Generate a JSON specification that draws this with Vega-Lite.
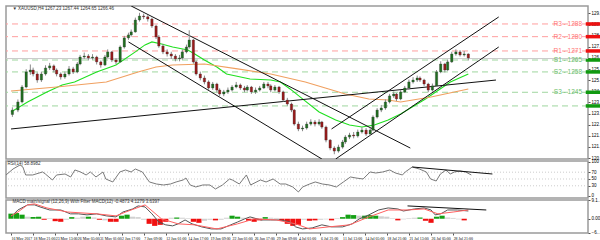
{
  "$schema": "https://vega.github.io/schema/vega-lite/v6.json",
  "padding": {"left": 3, "top": 4, "right": 0, "bottom": 0},
  "background": "white",
  "spacing": 2,
  "bounds": "flush",
  "config": {
    "font": "Liberation Sans",
    "view": {"stroke": "#9a9a9a", "strokeWidth": 1.5},
    "axis": {"labelFontSize": 4.5, "labelColor": "#000000", "tickSize": 2, "tickColor": "#555555", "labelPadding": 1, "domain": false, "grid": false, "title": null, "labelLimit": 13, "labelOverlap": false, "zindex": 1}
  },
  "datasets": {
    "candles": [
      {"i":1,"o":1231.0,"h":1235.5,"l":1229.5,"c":1233.8},
      {"i":5,"o":1233.8,"h":1240.5,"l":1232.5,"c":1238.9},
      {"i":8,"o":1238.9,"h":1249.5,"l":1238.0,"c":1248.3},
      {"i":11,"o":1248.3,"h":1259.5,"l":1247.5,"c":1257.8},
      {"i":14,"o":1257.8,"h":1262.5,"l":1256.0,"c":1259.0},
      {"i":16,"o":1259.0,"h":1260.5,"l":1255.0,"c":1256.5},
      {"i":19,"o":1256.5,"h":1257.5,"l":1251.0,"c":1252.7},
      {"i":22,"o":1252.7,"h":1258.0,"l":1251.5,"c":1256.5},
      {"i":25,"o":1256.5,"h":1262.0,"l":1255.5,"c":1260.3},
      {"i":28,"o":1260.3,"h":1263.5,"l":1259.0,"c":1261.6},
      {"i":31,"o":1261.6,"h":1262.5,"l":1257.5,"c":1259.0},
      {"i":33,"o":1259.0,"h":1260.0,"l":1255.0,"c":1256.5},
      {"i":36,"o":1256.5,"h":1257.5,"l":1253.0,"c":1254.6},
      {"i":39,"o":1254.6,"h":1258.0,"l":1253.5,"c":1256.5},
      {"i":42,"o":1256.5,"h":1261.5,"l":1255.5,"c":1259.7},
      {"i":45,"o":1259.7,"h":1261.0,"l":1256.5,"c":1257.8},
      {"i":48,"o":1257.8,"h":1264.0,"l":1257.0,"c":1262.8},
      {"i":50,"o":1262.8,"h":1268.5,"l":1262.0,"c":1267.2},
      {"i":53,"o":1267.2,"h":1270.0,"l":1266.0,"c":1267.8},
      {"i":56,"o":1267.8,"h":1269.0,"l":1265.0,"c":1266.6},
      {"i":59,"o":1266.6,"h":1269.0,"l":1265.5,"c":1267.2},
      {"i":62,"o":1267.2,"h":1268.0,"l":1262.5,"c":1264.1},
      {"i":65,"o":1264.1,"h":1265.0,"l":1260.5,"c":1262.2},
      {"i":68,"o":1262.2,"h":1268.5,"l":1261.5,"c":1267.2},
      {"i":70,"o":1267.2,"h":1272.0,"l":1266.5,"c":1270.4},
      {"i":73,"o":1270.4,"h":1271.0,"l":1264.0,"c":1265.3},
      {"i":76,"o":1265.3,"h":1266.5,"l":1262.5,"c":1264.1},
      {"i":79,"o":1264.1,"h":1274.5,"l":1263.5,"c":1273.5},
      {"i":82,"o":1273.5,"h":1280.5,"l":1272.5,"c":1279.2},
      {"i":85,"o":1279.2,"h":1282.5,"l":1278.0,"c":1281.1},
      {"i":87,"o":1281.1,"h":1284.5,"l":1280.0,"c":1283.0},
      {"i":90,"o":1283.0,"h":1292.0,"l":1282.5,"c":1290.5},
      {"i":93,"o":1290.5,"h":1295.0,"l":1289.5,"c":1293.0},
      {"i":96,"o":1293.0,"h":1294.5,"l":1291.0,"c":1292.5},
      {"i":99,"o":1292.5,"h":1293.5,"l":1289.5,"c":1291.1},
      {"i":102,"o":1291.1,"h":1292.0,"l":1285.5,"c":1286.7},
      {"i":105,"o":1286.7,"h":1287.5,"l":1278.5,"c":1279.8},
      {"i":107,"o":1279.8,"h":1281.0,"l":1273.0,"c":1274.1},
      {"i":110,"o":1274.1,"h":1275.5,"l":1269.0,"c":1270.4},
      {"i":113,"o":1270.4,"h":1272.0,"l":1267.5,"c":1269.1},
      {"i":116,"o":1269.1,"h":1270.5,"l":1266.0,"c":1267.8},
      {"i":119,"o":1267.8,"h":1269.0,"l":1264.5,"c":1266.0},
      {"i":122,"o":1266.0,"h":1268.5,"l":1264.5,"c":1266.6},
      {"i":124,"o":1266.6,"h":1272.0,"l":1265.5,"c":1270.4},
      {"i":127,"o":1270.4,"h":1275.0,"l":1269.5,"c":1273.5},
      {"i":129,"o":1273.5,"h":1284.0,"l":1272.5,"c":1277.9},
      {"i":132,"o":1277.9,"h":1278.5,"l":1263.0,"c":1264.1},
      {"i":134,"o":1264.1,"h":1265.0,"l":1255.5,"c":1256.5},
      {"i":137,"o":1256.5,"h":1258.0,"l":1252.5,"c":1254.0},
      {"i":140,"o":1254.0,"h":1255.5,"l":1250.0,"c":1251.5},
      {"i":143,"o":1251.5,"h":1252.5,"l":1246.5,"c":1247.7},
      {"i":146,"o":1247.7,"h":1251.5,"l":1246.5,"c":1250.2},
      {"i":149,"o":1250.2,"h":1251.0,"l":1245.0,"c":1246.4},
      {"i":151,"o":1246.4,"h":1247.5,"l":1242.5,"c":1243.9},
      {"i":154,"o":1243.9,"h":1246.5,"l":1242.5,"c":1245.2},
      {"i":157,"o":1245.2,"h":1248.0,"l":1244.0,"c":1246.4},
      {"i":160,"o":1246.4,"h":1249.5,"l":1245.5,"c":1248.3},
      {"i":163,"o":1248.3,"h":1251.5,"l":1247.5,"c":1249.6},
      {"i":166,"o":1249.6,"h":1250.5,"l":1246.5,"c":1247.7},
      {"i":169,"o":1247.7,"h":1249.0,"l":1245.0,"c":1246.4},
      {"i":171,"o":1246.4,"h":1249.5,"l":1245.5,"c":1248.3},
      {"i":174,"o":1248.3,"h":1249.0,"l":1244.0,"c":1245.2},
      {"i":177,"o":1245.2,"h":1248.0,"l":1244.0,"c":1246.4},
      {"i":180,"o":1246.4,"h":1249.0,"l":1245.5,"c":1247.7},
      {"i":183,"o":1247.7,"h":1251.5,"l":1247.0,"c":1250.2},
      {"i":186,"o":1250.2,"h":1251.5,"l":1247.5,"c":1249.0},
      {"i":188,"o":1249.0,"h":1250.0,"l":1245.0,"c":1246.4},
      {"i":191,"o":1246.4,"h":1249.5,"l":1245.5,"c":1248.3},
      {"i":194,"o":1248.3,"h":1249.0,"l":1244.0,"c":1245.2},
      {"i":197,"o":1245.2,"h":1246.0,"l":1239.0,"c":1240.1},
      {"i":200,"o":1240.1,"h":1241.5,"l":1236.5,"c":1237.6},
      {"i":203,"o":1237.6,"h":1238.5,"l":1232.5,"c":1233.8},
      {"i":205,"o":1233.8,"h":1234.5,"l":1224.0,"c":1225.0},
      {"i":208,"o":1225.0,"h":1226.5,"l":1220.5,"c":1221.9},
      {"i":211,"o":1221.9,"h":1224.0,"l":1220.5,"c":1222.5},
      {"i":214,"o":1222.5,"h":1226.5,"l":1221.5,"c":1225.0},
      {"i":217,"o":1225.0,"h":1228.0,"l":1224.0,"c":1226.3},
      {"i":220,"o":1226.3,"h":1227.5,"l":1223.5,"c":1225.0},
      {"i":223,"o":1225.0,"h":1228.0,"l":1224.0,"c":1226.3},
      {"i":225,"o":1226.3,"h":1227.0,"l":1222.0,"c":1223.1},
      {"i":228,"o":1223.1,"h":1224.0,"l":1213.5,"c":1214.9},
      {"i":231,"o":1214.9,"h":1215.5,"l":1208.5,"c":1209.9},
      {"i":234,"o":1209.9,"h":1211.0,"l":1206.0,"c":1208.0},
      {"i":237,"o":1208.0,"h":1212.0,"l":1207.0,"c":1210.5},
      {"i":240,"o":1210.5,"h":1215.0,"l":1209.5,"c":1213.7},
      {"i":242,"o":1213.7,"h":1218.0,"l":1212.5,"c":1216.8},
      {"i":245,"o":1216.8,"h":1219.5,"l":1215.5,"c":1218.1},
      {"i":248,"o":1218.1,"h":1220.0,"l":1216.0,"c":1217.5},
      {"i":251,"o":1217.5,"h":1221.5,"l":1216.5,"c":1220.0},
      {"i":254,"o":1220.0,"h":1223.0,"l":1219.0,"c":1221.2},
      {"i":257,"o":1221.2,"h":1222.5,"l":1217.5,"c":1218.7},
      {"i":260,"o":1218.7,"h":1222.5,"l":1217.5,"c":1221.2},
      {"i":262,"o":1221.2,"h":1230.5,"l":1220.5,"c":1229.4},
      {"i":265,"o":1229.4,"h":1235.0,"l":1228.5,"c":1233.8},
      {"i":268,"o":1233.8,"h":1237.0,"l":1232.5,"c":1235.1},
      {"i":271,"o":1235.1,"h":1240.5,"l":1234.0,"c":1238.9},
      {"i":274,"o":1238.9,"h":1244.0,"l":1238.0,"c":1242.7},
      {"i":277,"o":1242.7,"h":1245.5,"l":1241.5,"c":1243.9},
      {"i":279,"o":1243.9,"h":1244.5,"l":1239.5,"c":1240.8},
      {"i":282,"o":1240.8,"h":1246.5,"l":1240.0,"c":1245.2},
      {"i":285,"o":1245.2,"h":1249.0,"l":1244.5,"c":1247.7},
      {"i":288,"o":1247.7,"h":1253.0,"l":1246.5,"c":1251.5},
      {"i":291,"o":1251.5,"h":1254.5,"l":1250.5,"c":1252.7},
      {"i":294,"o":1252.7,"h":1255.5,"l":1251.5,"c":1254.0},
      {"i":296,"o":1254.0,"h":1255.0,"l":1251.5,"c":1252.7},
      {"i":299,"o":1252.7,"h":1253.5,"l":1249.0,"c":1250.2},
      {"i":302,"o":1250.2,"h":1251.0,"l":1245.0,"c":1246.4},
      {"i":305,"o":1246.4,"h":1250.5,"l":1245.5,"c":1249.0},
      {"i":308,"o":1249.0,"h":1259.0,"l":1248.5,"c":1257.8},
      {"i":311,"o":1257.8,"h":1264.5,"l":1257.0,"c":1262.8},
      {"i":314,"o":1262.8,"h":1263.5,"l":1257.5,"c":1259.0},
      {"i":316,"o":1259.0,"h":1265.5,"l":1258.5,"c":1264.1},
      {"i":319,"o":1264.1,"h":1270.5,"l":1263.5,"c":1269.1},
      {"i":322,"o":1269.1,"h":1272.0,"l":1268.0,"c":1270.4},
      {"i":325,"o":1270.4,"h":1271.5,"l":1267.5,"c":1268.5},
      {"i":328,"o":1268.5,"h":1271.0,"l":1267.5,"c":1269.1},
      {"i":331,"o":1269.1,"h":1269.5,"l":1265.0,"c":1266.6}
    ],
    "ma": [
      {"ma":"fast","i":0,"p":1232.6},{"ma":"fast","i":12,"p":1238.9},{"ma":"fast","i":26,"p":1245.2},{"ma":"fast","i":37,"p":1249.6},
      {"ma":"fast","i":46,"p":1251.5},{"ma":"fast","i":62,"p":1257.8},{"ma":"fast","i":76,"p":1262.2},{"ma":"fast","i":90,"p":1270.4},
      {"ma":"fast","i":97,"p":1274.8},{"ma":"fast","i":102,"p":1276.7},{"ma":"fast","i":109,"p":1275.4},{"ma":"fast","i":117,"p":1273.5},
      {"ma":"fast","i":128,"p":1271.6},{"ma":"fast","i":133,"p":1269.1},{"ma":"fast","i":140,"p":1265.3},{"ma":"fast","i":149,"p":1260.9},
      {"ma":"fast","i":156,"p":1256.5},{"ma":"fast","i":173,"p":1253.4},{"ma":"fast","i":188,"p":1252.7},{"ma":"fast","i":195,"p":1251.5},
      {"ma":"fast","i":202,"p":1247.1},{"ma":"fast","i":211,"p":1240.8},{"ma":"fast","i":223,"p":1232.6},{"ma":"fast","i":235,"p":1227.5},
      {"ma":"fast","i":245,"p":1224.4},{"ma":"fast","i":254,"p":1223.1},{"ma":"fast","i":263,"p":1224.4},{"ma":"fast","i":273,"p":1227.5},
      {"ma":"fast","i":282,"p":1231.3},{"ma":"fast","i":300,"p":1240.8},{"ma":"fast","i":318,"p":1251.5},{"ma":"fast","i":331,"p":1256.5},
      {"ma":"slow","i":0,"p":1245.8},{"ma":"slow","i":33,"p":1248.3},{"ma":"slow","i":69,"p":1251.5},{"ma":"slow","i":92,"p":1257.8},
      {"ma":"slow","i":105,"p":1260.9},{"ma":"slow","i":117,"p":1262.2},{"ma":"slow","i":140,"p":1262.8},{"ma":"slow","i":164,"p":1259.7},
      {"ma":"slow","i":188,"p":1256.5},{"ma":"slow","i":213,"p":1251.5},{"ma":"slow","i":242,"p":1243.9},{"ma":"slow","i":259,"p":1240.8},
      {"ma":"slow","i":273,"p":1240.1},{"ma":"slow","i":282,"p":1238.9},{"ma":"slow","i":304,"p":1242.0},{"ma":"slow","i":331,"p":1247.1}
    ],
    "trend": [
      {"id":"long","i":0,"p":1221.9},{"id":"long","i":351,"p":1252.7},
      {"id":"downUpper","i":87,"p":1299.3},{"id":"downUpper","i":289,"p":1209.9},
      {"id":"downLower","i":85,"p":1276.7},{"id":"downLower","i":225,"p":1203.0},
      {"id":"upLower","i":235,"p":1203.0},{"id":"upLower","i":353,"p":1273.5},
      {"id":"upUpper","i":232,"p":1221.9},{"id":"upUpper","i":353,"p":1292.4}
    ],
    "levels": [
      {"name":"R3 - 1288","p":1288,"kind":"R"},
      {"name":"R2 - 1280","p":1280,"kind":"R"},
      {"name":"R1 - 1271","p":1271,"kind":"R"},
      {"name":"S1 - 1265","p":1265.3,"kind":"S"},
      {"name":"S2 - 1258","p":1257.8,"kind":"S"},
      {"name":"S3 - 1245","p":1245,"kind":"S"},
      {"name":"","p":1236.4,"kind":"S"}
    ],
    "rsi": [
      {"i":0,"v":61.8},{"i":5,"v":79.4},{"i":10,"v":91.2},{"i":12,"v":85.3},{"i":14,"v":61.8},{"i":19,"v":61.8},{"i":26,"v":70.6},{"i":28,"v":64.7},
      {"i":33,"v":47.1},{"i":36,"v":61.8},{"i":42,"v":64.7},{"i":46,"v":55.9},{"i":49,"v":76.5},{"i":53,"v":70.6},{"i":57,"v":61.8},{"i":60,"v":70.6},
      {"i":64,"v":55.9},{"i":69,"v":70.6},{"i":71,"v":50.0},{"i":76,"v":41.2},{"i":81,"v":70.6},{"i":85,"v":76.5},{"i":89,"v":70.6},{"i":92,"v":79.4},
      {"i":97,"v":70.6},{"i":102,"v":41.2},{"i":107,"v":35.3},{"i":112,"v":32.4},{"i":117,"v":35.3},{"i":121,"v":41.2},{"i":126,"v":47.1},{"i":128,"v":52.9},
      {"i":131,"v":32.4},{"i":135,"v":26.5},{"i":140,"v":32.4},{"i":145,"v":32.4},{"i":149,"v":20.6},{"i":154,"v":32.4},{"i":159,"v":50.0},{"i":161,"v":47.1},
      {"i":166,"v":35.3},{"i":171,"v":61.8},{"i":174,"v":32.4},{"i":181,"v":47.1},{"i":185,"v":41.2},{"i":190,"v":50.0},{"i":195,"v":35.3},{"i":199,"v":35.3},
      {"i":204,"v":26.5},{"i":208,"v":11.8},{"i":211,"v":26.5},{"i":216,"v":35.3},{"i":220,"v":41.2},{"i":225,"v":35.3},{"i":230,"v":32.4},{"i":235,"v":26.5},
      {"i":240,"v":41.2},{"i":245,"v":55.9},{"i":249,"v":52.9},{"i":254,"v":50.0},{"i":259,"v":70.6},{"i":263,"v":67.6},{"i":268,"v":70.6},{"i":273,"v":76.5},
      {"i":277,"v":67.6},{"i":282,"v":61.8},{"i":284,"v":70.6},{"i":289,"v":85.3},{"i":294,"v":79.4},{"i":299,"v":70.6},{"i":302,"v":50.0},{"i":306,"v":44.1},
      {"i":309,"v":64.7},{"i":313,"v":76.5},{"i":316,"v":64.7},{"i":319,"v":70.6},{"i":323,"v":73.5},{"i":327,"v":70.6},{"i":331,"v":61.8}
    ],
    "rsiLevels": [{"v":30},{"v":50},{"v":70}],
    "rsiTrend": [{"i":289,"v":85.3},{"i":346,"v":64.7}],
    "macd": [
      {"line":"main","i":0,"v":0.9},{"line":"main","i":5,"v":4.3},{"line":"main","i":12,"v":6.8},{"line":"main","i":17,"v":6.8},{"line":"main","i":21,"v":5.8},
      {"line":"main","i":28,"v":4.3},{"line":"main","i":36,"v":4.3},{"line":"main","i":43,"v":2.4},{"line":"main","i":49,"v":2.4},{"line":"main","i":55,"v":1.9},
      {"line":"main","i":62,"v":2.4},{"line":"main","i":69,"v":1.4},{"line":"main","i":76,"v":0.9},{"line":"main","i":81,"v":3.3},{"line":"main","i":88,"v":4.8},
      {"line":"main","i":92,"v":6.3},{"line":"main","i":97,"v":5.8},{"line":"main","i":102,"v":2.4},{"line":"main","i":107,"v":-1.6},{"line":"main","i":112,"v":-3.0},
      {"line":"main","i":117,"v":-3.5},{"line":"main","i":121,"v":-2.5},{"line":"main","i":126,"v":-0.6},{"line":"main","i":131,"v":-2.5},{"line":"main","i":138,"v":-4.0},
      {"line":"main","i":145,"v":-5.0},{"line":"main","i":152,"v":-5.0},{"line":"main","i":159,"v":-3.0},{"line":"main","i":164,"v":-1.6},{"line":"main","i":169,"v":-0.1},
      {"line":"main","i":173,"v":0.9},{"line":"main","i":181,"v":-0.6},{"line":"main","i":188,"v":-0.6},{"line":"main","i":195,"v":-0.6},{"line":"main","i":202,"v":-1.6},
      {"line":"main","i":206,"v":-4.0},{"line":"main","i":211,"v":-5.0},{"line":"main","i":218,"v":-4.5},{"line":"main","i":225,"v":-3.0},{"line":"main","i":232,"v":-4.0},
      {"line":"main","i":240,"v":-4.0},{"line":"main","i":247,"v":-2.5},{"line":"main","i":252,"v":-0.1},{"line":"main","i":259,"v":1.9},{"line":"main","i":266,"v":4.3},
      {"line":"main","i":273,"v":5.3},{"line":"main","i":280,"v":4.8},{"line":"main","i":284,"v":3.8},{"line":"main","i":292,"v":4.8},{"line":"main","i":299,"v":5.3},
      {"line":"main","i":304,"v":4.3},{"line":"main","i":307,"v":1.9},{"line":"main","i":311,"v":2.4},{"line":"main","i":316,"v":4.3},{"line":"main","i":323,"v":4.3},
      {"line":"main","i":331,"v":3.8},
      {"line":"signal","i":0,"v":1.4},{"line":"signal","i":5,"v":3.3},{"line":"signal","i":12,"v":6.8},{"line":"signal","i":17,"v":7.3},{"line":"signal","i":26,"v":5.3},
      {"line":"signal","i":41,"v":3.3},{"line":"signal","i":62,"v":2.4},{"line":"signal","i":76,"v":1.4},{"line":"signal","i":83,"v":3.3},{"line":"signal","i":97,"v":6.8},
      {"line":"signal","i":109,"v":-0.1},{"line":"signal","i":121,"v":-2.5},{"line":"signal","i":133,"v":-3.0},{"line":"signal","i":149,"v":-5.0},{"line":"signal","i":164,"v":-2.5},
      {"line":"signal","i":176,"v":-0.1},{"line":"signal","i":192,"v":-0.6},{"line":"signal","i":206,"v":-2.5},{"line":"signal","i":216,"v":-5.0},{"line":"signal","i":230,"v":-4.0},
      {"line":"signal","i":245,"v":-3.0},{"line":"signal","i":259,"v":0.9},{"line":"signal","i":273,"v":4.3},{"line":"signal","i":287,"v":4.3},{"line":"signal","i":299,"v":4.8},
      {"line":"signal","i":309,"v":2.4},{"line":"signal","i":320,"v":3.3},{"line":"signal","i":331,"v":4.3}
    ],
    "macdTrend": [{"i":287,"v":6.3},{"i":344,"v":4.3}],
    "hist": [
      {"i":0,"v":2.5,"dir":"up"},{"i":4,"v":2.8,"dir":"up"},{"i":8,"v":2.0,"dir":"up"},{"i":12,"v":1.0,"dir":"flat"},{"i":16,"v":0.8,"dir":"up"},
      {"i":20,"v":1.0,"dir":"up"},{"i":24,"v":-0.5,"dir":"down"},{"i":28,"v":0.3,"dir":"flat"},{"i":32,"v":-1.2,"dir":"down"},{"i":36,"v":-1.5,"dir":"down"},
      {"i":40,"v":-0.5,"dir":"flat"},{"i":44,"v":0.8,"dir":"up"},{"i":48,"v":0.5,"dir":"flat"},{"i":52,"v":1.0,"dir":"flat"},{"i":56,"v":1.0,"dir":"up"},
      {"i":60,"v":0.6,"dir":"flat"},{"i":64,"v":-0.5,"dir":"down"},{"i":68,"v":-0.8,"dir":"flat"},{"i":72,"v":-1.5,"dir":"down"},{"i":76,"v":-1.5,"dir":"down"},
      {"i":80,"v":1.5,"dir":"up"},{"i":84,"v":2.0,"dir":"up"},{"i":88,"v":1.0,"dir":"flat"},{"i":92,"v":0.8,"dir":"flat"},{"i":96,"v":-0.5,"dir":"flat"},
      {"i":100,"v":-2.5,"dir":"down"},{"i":104,"v":-3.5,"dir":"down"},{"i":108,"v":-3.0,"dir":"down"},{"i":112,"v":-1.5,"dir":"down"},{"i":116,"v":0.5,"dir":"flat"},
      {"i":120,"v":0.6,"dir":"up"},{"i":124,"v":0.5,"dir":"flat"},{"i":128,"v":0.3,"dir":"flat"},{"i":132,"v":-1.5,"dir":"down"},{"i":136,"v":-2.0,"dir":"down"},
      {"i":140,"v":-1.0,"dir":"flat"},{"i":144,"v":-0.5,"dir":"flat"},{"i":148,"v":-0.8,"dir":"down"},{"i":152,"v":-0.5,"dir":"flat"},{"i":156,"v":0.5,"dir":"flat"},
      {"i":160,"v":1.5,"dir":"up"},{"i":164,"v":1.0,"dir":"up"},{"i":168,"v":0.5,"dir":"flat"},{"i":172,"v":-1.0,"dir":"down"},{"i":176,"v":-1.5,"dir":"down"},
      {"i":180,"v":-0.8,"dir":"down"},{"i":184,"v":0.8,"dir":"up"},{"i":188,"v":0.5,"dir":"flat"},{"i":192,"v":0.4,"dir":"flat"},{"i":196,"v":-1.0,"dir":"down"},
      {"i":200,"v":-2.5,"dir":"down"},{"i":204,"v":-3.5,"dir":"down"},{"i":208,"v":-3.0,"dir":"down"},{"i":212,"v":-0.5,"dir":"flat"},{"i":216,"v":-1.0,"dir":"down"},
      {"i":220,"v":-0.8,"dir":"down"},{"i":224,"v":-0.5,"dir":"flat"},{"i":228,"v":-0.3,"dir":"flat"},{"i":232,"v":-0.8,"dir":"down"},{"i":236,"v":0.3,"dir":"flat"},
      {"i":240,"v":0.8,"dir":"up"},{"i":244,"v":2.0,"dir":"up"},{"i":248,"v":1.8,"dir":"up"},{"i":252,"v":1.5,"dir":"flat"},{"i":256,"v":1.5,"dir":"up"},
      {"i":260,"v":1.8,"dir":"up"},{"i":264,"v":1.5,"dir":"up"},{"i":268,"v":1.2,"dir":"flat"},{"i":272,"v":1.0,"dir":"flat"},{"i":276,"v":0.3,"dir":"flat"},
      {"i":280,"v":-0.8,"dir":"down"},{"i":284,"v":-0.3,"dir":"flat"},{"i":288,"v":0.3,"dir":"flat"},{"i":292,"v":0.5,"dir":"flat"},{"i":296,"v":0.6,"dir":"up"},
      {"i":300,"v":-1.0,"dir":"down"},{"i":304,"v":-2.0,"dir":"down"},{"i":308,"v":1.0,"dir":"up"},{"i":312,"v":1.5,"dir":"up"},{"i":316,"v":0.6,"dir":"flat"},
      {"i":320,"v":0.4,"dir":"flat"},{"i":324,"v":-0.3,"dir":"flat"},{"i":328,"v":-0.8,"dir":"down"}
    ]
  },
  "vconcat": [
    {
      "width": 582,
      "height": 153,
      "resolve": {"scale": {"color": "independent"}},
      "encoding": {
        "x": {"type": "quantitative", "scale": {"domain": [0, 414], "nice": false, "zero": false}, "axis": null},
        "y": {"type": "quantitative", "scale": {"domain": [1203.0, 1299.3], "nice": false, "zero": false},
          "axis": {"orient": "right", "values": [1203.6, 1210.6, 1217.6, 1224.6, 1231.6, 1238.6, 1245.6, 1252.6, 1259.6, 1266.6, 1273.6, 1280.6, 1287.6, 1294.6], "format": ".2f", "labelOverlap": false, "labelSeparation": 0}}
      },
      "layer": [
        {
          "data": {"name": "levels"},
          "mark": {"type": "rule", "strokeDash": [6, 4], "strokeWidth": 1, "clip": true},
          "encoding": {
            "y": {"field": "p"},
            "color": {"field": "kind", "type": "nominal", "scale": {"domain": ["R", "S"], "range": ["#ff9f9f", "#9fd69f"]}, "legend": null}
          }
        },
        {
          "data": {"name": "levels"},
          "mark": {"type": "rule", "strokeWidth": 3.5},
          "encoding": {
            "x": {"datum": 416},
            "x2": {"datum": 430},
            "y": {"field": "p"},
            "color": {"field": "kind", "type": "nominal", "scale": {"domain": ["R", "S"], "range": ["#ee1111", "#109a10"]}, "legend": null}
          }
        },
        {
          "data": {"values": [{"p": 1266.2}]},
          "mark": {"type": "rule", "color": "#c8c8c8", "strokeWidth": 1},
          "encoding": {"y": {"field": "p"}}
        },
        {
          "data": {"name": "ma"},
          "mark": {"type": "line", "strokeWidth": 1.1, "clip": true},
          "encoding": {
            "x": {"field": "i"},
            "y": {"field": "p"},
            "color": {"field": "ma", "type": "nominal", "scale": {"domain": ["fast", "slow"], "range": ["#1fe01f", "#f0a060"]}, "legend": null}
          }
        },
        {
          "data": {"name": "trend"},
          "mark": {"type": "line", "color": "#111111", "strokeWidth": 1, "clip": true},
          "encoding": {
            "x": {"field": "i"},
            "y": {"field": "p"},
            "detail": {"field": "id"}
          }
        },
        {
          "data": {"name": "candles"},
          "mark": {"type": "rule", "color": "#8a8a8a", "strokeWidth": 1},
          "encoding": {
            "x": {"field": "i"},
            "y": {"field": "l"},
            "y2": {"field": "h"}
          }
        },
        {
          "data": {"name": "candles"},
          "mark": {"type": "bar", "size": 2.4, "stroke": "#333333", "strokeWidth": 0.3},
          "encoding": {
            "x": {"field": "i"},
            "y": {"field": "o"},
            "y2": {"field": "c"},
            "color": {"condition": {"test": "datum.c >= datum.o", "value": "#1f6e1f"}, "value": "#9a1a1a"}
          }
        },
        {
          "data": {"name": "levels"},
          "mark": {"type": "text", "align": "right", "baseline": "middle", "fontSize": 6.5, "dx": -1},
          "encoding": {
            "x": {"datum": 414},
            "y": {"field": "p"},
            "text": {"field": "name"},
            "color": {"field": "kind", "type": "nominal", "scale": {"domain": ["R", "S"], "range": ["#ff7878", "#70c070"]}, "legend": null}
          }
        },
        {
          "data": {"values": [{"t": "▼ XAUUSD,H4  1267.23 1267.44 1264.65 1266.46"}]},
          "mark": {"type": "text", "align": "left", "baseline": "middle", "fontSize": 4.5, "color": "#333333"},
          "encoding": {"x": {"datum": 1}, "y": {"datum": 1297.6}, "text": {"field": "t"}}
        }
      ]
    },
    {
      "width": 582,
      "height": 37,
      "encoding": {
        "x": {"type": "quantitative", "scale": {"domain": [0, 414], "nice": false, "zero": false}, "axis": null},
        "y": {"type": "quantitative", "scale": {"domain": [-5.9, 102.9], "nice": false, "zero": false},
          "axis": {"orient": "right", "values": [0, 30, 50, 70, 100], "labelOverlap": false, "labelSeparation": 0}}
      },
      "layer": [
        {
          "data": {"name": "rsiLevels"},
          "mark": {"type": "rule", "color": "#c0c0c0", "strokeDash": [1, 2], "strokeWidth": 0.8},
          "encoding": {"y": {"field": "v"}}
        },
        {
          "data": {"name": "rsi"},
          "mark": {"type": "line", "color": "#7a7a7a", "strokeWidth": 1},
          "encoding": {"x": {"field": "i"}, "y": {"field": "v"}}
        },
        {
          "data": {"name": "rsiTrend"},
          "mark": {"type": "line", "color": "#111111", "strokeWidth": 1},
          "encoding": {"x": {"field": "i"}, "y": {"field": "v"}}
        },
        {
          "data": {"values": [{"t": "RSI(14) 58.8982"}]},
          "mark": {"type": "text", "align": "left", "baseline": "middle", "fontSize": 4.5, "color": "#333333"},
          "encoding": {"x": {"datum": 1}, "y": {"datum": 95}, "text": {"field": "t"}}
        }
      ]
    },
    {
      "width": 582,
      "height": 33,
      "resolve": {"scale": {"color": "independent"}},
      "encoding": {
        "x": {"type": "quantitative", "scale": {"domain": [0, 414], "nice": false, "zero": false},
          "axis": {"orient": "bottom", "values": [0, 16, 32, 48, 64, 80, 96, 112, 128, 144, 160, 176, 192, 208, 224, 240, 256, 272, 288, 304, 320],
            "labelExpr": "['16 May 2017','18 May 21:00','23 May 13:00','26 May 05:00','31 May 01:00','2 Jun 17:00','7 Jun 09:00','12 Jun 01:00','14 Jun 17:00','19 Jun 09:00','22 Jun 01:00','26 Jun 17:00','29 Jun 09:00','4 Jul 01:00','6 Jul 21:00','11 Jul 13:00','14 Jul 05:00','18 Jul 21:00','21 Jul 13:00','26 Jul 05:00','28 Jul 21:00'][round(datum.value/16)]",
            "labelAlign": "left", "labelFlush": false, "labelLimit": 22, "labelOverlap": false, "labelPadding": 1, "tickSize": 2, "labelFontSize": 3.9, "labelFont": "Liberation Sans Narrow"}},
        "y": {"type": "quantitative", "scale": {"domain": [-7.0, 9.2], "nice": false, "zero": false},
          "axis": {"orient": "right", "values": [-6.98, 0, 9.19], "labelOverlap": false, "labelExpr": "datum.value == 0 ? '0.00' : format(datum.value, '.4f')"}}
      },
      "layer": [
        {
          "data": {"name": "hist"},
          "mark": {"type": "bar", "size": 5.2},
          "encoding": {
            "x": {"field": "i"},
            "y": {"field": "v"},
            "y2": {"datum": 0},
            "color": {"field": "dir", "type": "nominal", "scale": {"domain": ["up", "down", "flat"], "range": ["#14a014", "#f01010", "#d0d0d0"]}, "legend": null}
          }
        },
        {
          "data": {"name": "macd"},
          "mark": {"type": "line", "strokeWidth": 1},
          "encoding": {
            "x": {"field": "i"},
            "y": {"field": "v"},
            "color": {"field": "line", "type": "nominal", "scale": {"domain": ["main", "signal"], "range": ["#555555", "#ff6060"]}, "legend": null}
          }
        },
        {
          "data": {"name": "macdTrend"},
          "mark": {"type": "line", "color": "#111111", "strokeWidth": 1},
          "encoding": {"x": {"field": "i"}, "y": {"field": "v"}}
        },
        {
          "data": {"values": [{"t": "MACD main/signal (12,26,9) With Filter MACD(12) -0.4873 4.1279 3.6397"}]},
          "mark": {"type": "text", "align": "left", "baseline": "middle", "fontSize": 4.5, "color": "#333333"},
          "encoding": {"x": {"datum": 1}, "y": {"datum": 8.0}, "text": {"field": "t"}}
        }
      ]
    }
  ]
}
